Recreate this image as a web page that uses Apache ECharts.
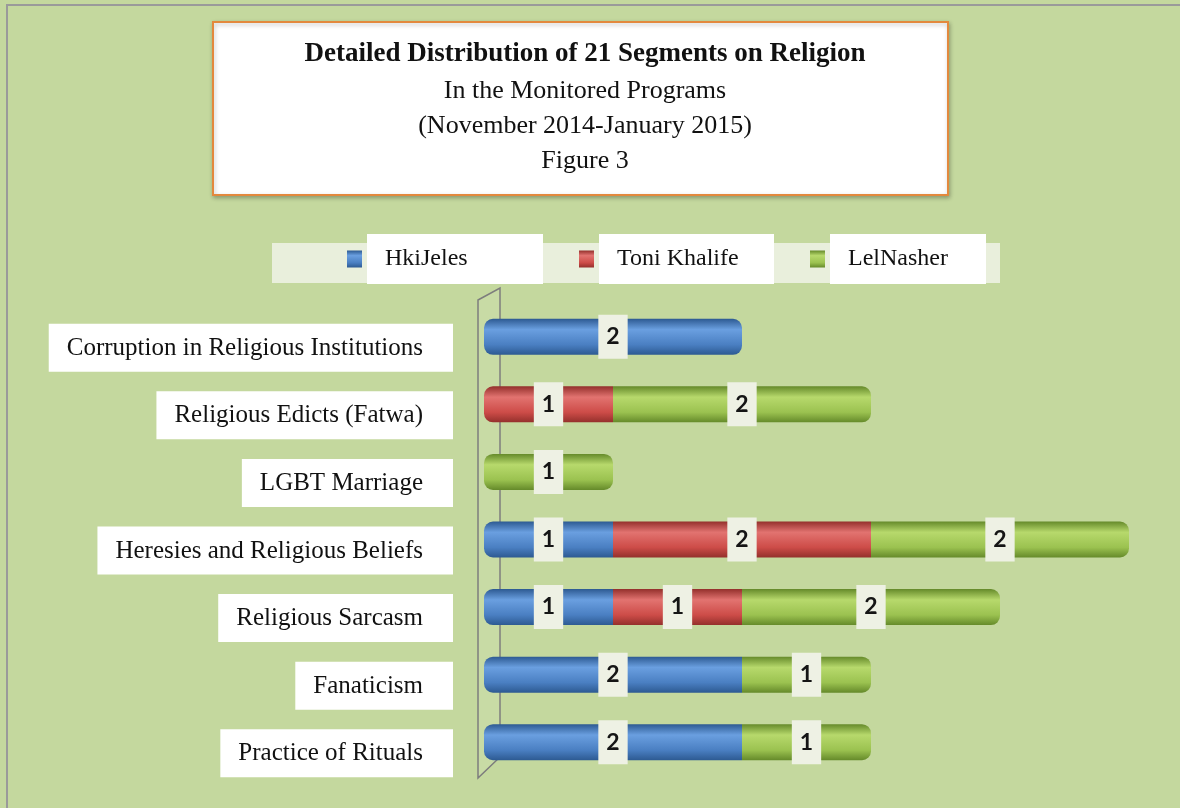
<!DOCTYPE html>
<html>
<head>
<meta charset="utf-8">
<script src="https://cdn.jsdelivr.net/npm/echarts@6/dist/echarts.min.js"></script>
<style>
html, body { margin: 0; padding: 0; background: #c4d89e; }
#main { width: 1180px; height: 808px; }
</style>
</head>
<body>
<div id="main"></div>
<script>
var categories = [
    'Corruption in Religious Institutions',
    'Religious Edicts (Fatwa)',
    'LGBT Marriage',
    'Heresies and Religious Beliefs',
    'Religious Sarcasm',
    'Fanaticism',
    'Practice of Rituals'
];
var seriesNames = ['HkiJeles', 'Toni Khalife', 'LelNasher'];
var hkiJeles = [2, 0, 0, 1, 1, 2, 2];
var toniKhalife = [0, 1, 0, 2, 1, 0, 0];
var lelNasher = [0, 2, 1, 2, 2, 1, 1];

var allValues = [hkiJeles, toniKhalife, lelNasher];

function cyl(dark, light, mid) {
    return new echarts.graphic.LinearGradient(0, 0, 0, 1, [
        { offset: 0, color: dark },
        { offset: 0.3, color: light },
        { offset: 0.72, color: mid },
        { offset: 1, color: dark }
    ]);
}
var colors = [
    cyl('#2d5a92', '#6a9fe0', '#4a7fc2'),
    cyl('#94302c', '#e27370', '#cd4c48'),
    cyl('#658a2a', '#b7d96c', '#9bc250')
];
var legendColors = ['#4a7ebf', '#c0504d', '#9bbb59'];

// rounded ends only on the first / last segment of each row
function buildData(s) {
    return allValues[s].map(function (v, i) {
        if (!v) return '-';
        var first = 0, last = 2;
        while (!allValues[first][i]) first++;
        while (!allValues[last][i]) last--;
        var r = [s === first ? 9 : 0, s === last ? 9 : 0, s === last ? 9 : 0, s === first ? 9 : 0];
        return { value: v, itemStyle: { borderRadius: r } };
    });
}

var series = seriesNames.map(function (name, s) {
    return {
        name: name,
        type: 'bar',
        stack: 'total',
        barWidth: 36,
        itemStyle: { color: colors[s] },
        label: {
            show: true,
            position: 'inside',
            fontFamily: 'Lato',
            fontWeight: 'bold',
            fontSize: 23,
            color: '#151515',
            backgroundColor: '#eef1e4',
            padding: [12, 8, 9, 8]
        },
        data: buildData(s)
    };
});

var legendWidths = [158, 157, 138];

var option = {
    backgroundColor: '#c4d89e',
    color: legendColors,
    title: {
        text: 'Detailed Distribution of 21 Segments on Religion',
        subtext: 'In the Monitored Programs\n(November 2014-January 2015)\nFigure 3',
        left: 580,
        top: 36,
        textAlign: 'center',
        itemGap: 6,
        textStyle: {
            fontFamily: 'Liberation Serif',
            fontSize: 27,
            fontWeight: 'bold',
            color: '#111'
        },
        subtextStyle: {
            fontFamily: 'Liberation Serif',
            fontSize: 26,
            color: '#111',
            lineHeight: 35
        }
    },
    legend: {
        left: 342,
        top: 229,
        icon: 'rect',
        itemWidth: 15,
        itemHeight: 17,
        itemGap: 36,
        textStyle: {
            fontFamily: 'Liberation Serif',
            fontSize: 24,
            color: '#111',
            backgroundColor: '#fff',
            padding: [13, 0, 13, 18]
        },
        data: seriesNames.map(function (n, i) {
            return { name: n, textStyle: { width: legendWidths[i] } };
        })
    },
    grid: {
        left: 484,
        right: 51,
        top: 303,
        bottom: 32
    },
    xAxis: {
        type: 'value',
        min: 0,
        max: 5,
        show: false
    },
    yAxis: {
        type: 'category',
        inverse: true,
        data: categories,
        axisLine: { show: false },
        axisTick: { show: false },
        axisLabel: {
            margin: 31,
            padding: [22, 0, 0, 0],
            formatter: function (v) { return '{b|' + v + '}'; },
            rich: {
                b: {
                    fontFamily: 'Liberation Serif',
                    fontSize: 25,
                    color: '#111',
                    backgroundColor: '#fff',
                    padding: [12, 30, 11, 18]
                }
            }
        }
    },
    graphic: [
        {
            type: 'rect', z: -10, silent: true,
            shape: { x: 7, y: 5, width: 1300, height: 900 },
            style: { fill: 'none', stroke: '#9a9a9a', lineWidth: 2 }
        },
        {
            type: 'rect', z: -5, silent: true,
            shape: { x: 213, y: 22, width: 735, height: 173 },
            style: {
                fill: '#fff', stroke: '#e3893d', lineWidth: 2,
                shadowBlur: 4, shadowColor: 'rgba(0,0,0,0.25)', shadowOffsetX: 1, shadowOffsetY: 2
            }
        },
        {
            type: 'rect', z: -5, silent: true,
            shape: { x: 272, y: 243, width: 728, height: 40 },
            style: { fill: '#e9efdc' }
        },
        {
            type: 'polygon', z: -5, silent: true,
            shape: { points: [[478, 300], [500, 288], [500, 757], [478, 778]] },
            style: { fill: 'rgba(255,255,255,0.08)', stroke: '#7d7d7d', lineWidth: 1.5 }
        }
    ],
    series: series
};

var myChart = echarts.init(document.getElementById('main'));
myChart.setOption(option);
</script>
</body>
</html>
